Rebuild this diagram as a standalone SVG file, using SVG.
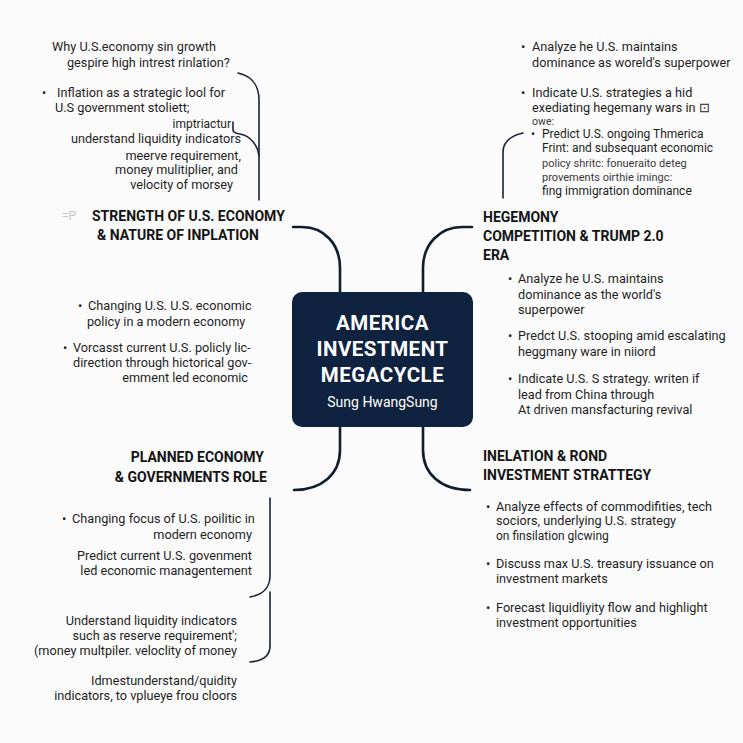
<svg xmlns="http://www.w3.org/2000/svg" width="743" height="743" viewBox="0 0 743 743">
<style>
text{font-family:Roboto,"Liberation Sans",Arial,sans-serif;fill:#1e1e1e}
.t{font-size:12.7px}
.s{font-size:12px}
.xs{font-size:11px;fill:#3a3a3a}
.h{font-size:14px;font-weight:700;fill:#141414}
.e{text-anchor:end}
.ct{font-size:20.5px;font-weight:700;fill:#ffffff;text-anchor:middle;letter-spacing:0.5px}
.cs{font-size:14px;fill:#ffffff;text-anchor:middle}
.c{fill:none;stroke:#111c2c;stroke-width:2.6;stroke-linecap:round}
.b{fill:none;stroke:#1a2233;stroke-width:1.6;stroke-linecap:round}
</style>
<rect width="743" height="743" fill="#fbfbfb"/>
<g id="connectors">
<path class="c" d="M293,227 H302 C324,227 340,244 340,268 V292"/>
<path class="c" d="M472,227 H462 C440,227 423,244 423,268 V292"/>
<path class="c" d="M340,427 V450 C340,474 322,490 294,490"/>
<path class="c" d="M423,427 V450 C423,474 441,490 470,490"/>
<path class="b" d="M238,73 C252,76 259,86 259,100 V200"/>
<path class="b" d="M233,122 V130 Q233,133 240,134 C251,136 258,146 259,156"/>
<path class="b" d="M523,133 C510,136 503,143 503,152 V198"/>
<path class="b" d="M270,498 V576 C270,588 262,595 250,597"/>
<path class="b" d="M270,592 V646 C270,656 262,661 250,662"/>
</g>
<g id="center">
<rect x="292" y="292" width="181" height="135" rx="10" fill="#0f2340"/>
<text class="ct" x="382.5" y="330">AMERICA</text>
<text class="ct" x="382.5" y="356">INVESTMENT</text>
<text class="ct" x="382.5" y="382">MEGACYCLE</text>
<text class="cs" x="382.5" y="407">Sung HwangSung</text>
</g>
<g id="top-left-notes">
<text class="t" x="52" y="51">Why U.S.economy sin growth</text>
<text class="t" x="67" y="67">gespire high intrest rinlation?</text>
<text class="t" x="42" y="97">•</text>
<text class="t" x="57" y="97">Inflation as a strategic lool for</text>
<text class="t" x="55" y="112">U.S  government stoliett;</text>
<text class="s e" x="231" y="128">imptriactur</text>
<text class="t e" x="241" y="143">understand liquidity indicators</text>
<text class="t e" x="241" y="160">meerve requirement,</text>
<text class="t e" x="238" y="174">money mulitiplier, and</text>
<text class="t e" x="233" y="189">velocity of morsey</text>
</g>
<g id="top-right-notes">
<text class="t" x="521" y="51">•</text>
<text class="t" x="532" y="51">Analyze he U.S. maintains</text>
<text class="t" x="532" y="67">dominance as woreld's superpower</text>
<text class="t" x="521" y="97">•</text>
<text class="t" x="532" y="97">Indicate U.S. strategies a hid</text>
<text class="t" x="532" y="112">exediating hegemany wars in ⊡</text>
<text class="xs" x="532" y="125" style="font-size:10.5px">owe:</text>
<text class="s" x="531" y="138">•</text>
<text class="s" x="542" y="138">Predict U.S. ongoing Thmerica</text>
<text class="s" x="542" y="152">Frint: and subsequant economic</text>
<text class="xs" x="542" y="167">policy shritc: fonueraito deteg</text>
<text class="xs" x="542" y="181">provements oirthie imingc:</text>
<text class="s" x="542" y="195">fing immigration dominance</text>
</g>
<g id="strength">
<text class="s" x="62" y="220" style="fill:#c4c4c4">=P</text>
<text class="h" x="92" y="221">STRENGTH OF U.S. ECONOMY</text>
<text class="h" x="97" y="240">&amp; NATURE OF INPLATION</text>
<text class="t" x="78" y="310">•</text>
<text class="t" x="88" y="310">Changing U.S. U.S. economic</text>
<text class="t" x="87" y="326">policy in a modern economy</text>
<text class="t" x="63" y="352">•</text>
<text class="t" x="73" y="352">Vorcasst current U.S. policly lic-</text>
<text class="t" x="73" y="367">direction through hictorical gov-</text>
<text class="t e" x="248" y="382">emment led economic</text>
</g>
<g id="hegemony">
<text class="h" x="483" y="222">HEGEMONY</text>
<text class="h" x="483" y="241">COMPETITION &amp; TRUMP 2.0</text>
<text class="h" x="483" y="260">ERA</text>
<text class="t" x="508" y="283">•</text>
<text class="t" x="518" y="283">Analyze he U.S. maintains</text>
<text class="t" x="518" y="299">dominance as the world's</text>
<text class="t" x="518" y="314">superpower</text>
<text class="t" x="508" y="340">•</text>
<text class="t" x="518" y="340">Predct U.S. stooping amid escalating</text>
<text class="t" x="518" y="356">heggmany ware in niiord</text>
<text class="t" x="508" y="383">•</text>
<text class="t" x="518" y="383">Indicate U.S. S strategy. writen if</text>
<text class="t" x="518" y="399">lead from China through</text>
<text class="t" x="518" y="414">At driven mansfacturing revival</text>
</g>
<g id="planned">
<text class="h e" x="264" y="462">PLANNED ECONOMY</text>
<text class="h e" x="267" y="482">&amp; GOVERNMENTS ROLE</text>
<text class="t" x="62" y="523">•</text>
<text class="t" x="72" y="523">Changing focus of U.S. poilitic in</text>
<text class="t e" x="252" y="539">modern economy</text>
<text class="t e" x="252" y="560">Predict current U.S. govenment</text>
<text class="t e" x="252" y="575">led economic managentement</text>
<text class="t e" x="237" y="625">Understand liquidity indicators</text>
<text class="t e" x="237" y="640">such as reserve requirement';</text>
<text class="t e" x="237" y="655">(money multpiler. veloclity of money</text>
<text class="t e" x="237" y="685">Idmestunderstand/quidity</text>
<text class="t e" x="237" y="700">indicators, to vplueye frou cloors</text>
</g>
<g id="inflation">
<text class="h" x="483" y="461">INELATION &amp; ROND</text>
<text class="h" x="483" y="480">INVESTMENT STRATTEGY</text>
<text class="t" x="486" y="511">•</text>
<text class="t" x="496" y="511">Analyze effects of commodifities, tech</text>
<text class="t" x="496" y="525">sociors, underlying U.S. strategy</text>
<text class="s" x="496" y="540">on finsilation glcwing</text>
<text class="t" x="486" y="568">•</text>
<text class="t" x="496" y="568">Discuss max U.S. treasury issuance on</text>
<text class="t" x="496" y="583">investment markets</text>
<text class="t" x="486" y="612">•</text>
<text class="t" x="496" y="612">Forecast liquidliyity flow and highlight</text>
<text class="t" x="496" y="627">investment opportunities</text>
</g>
</svg>
